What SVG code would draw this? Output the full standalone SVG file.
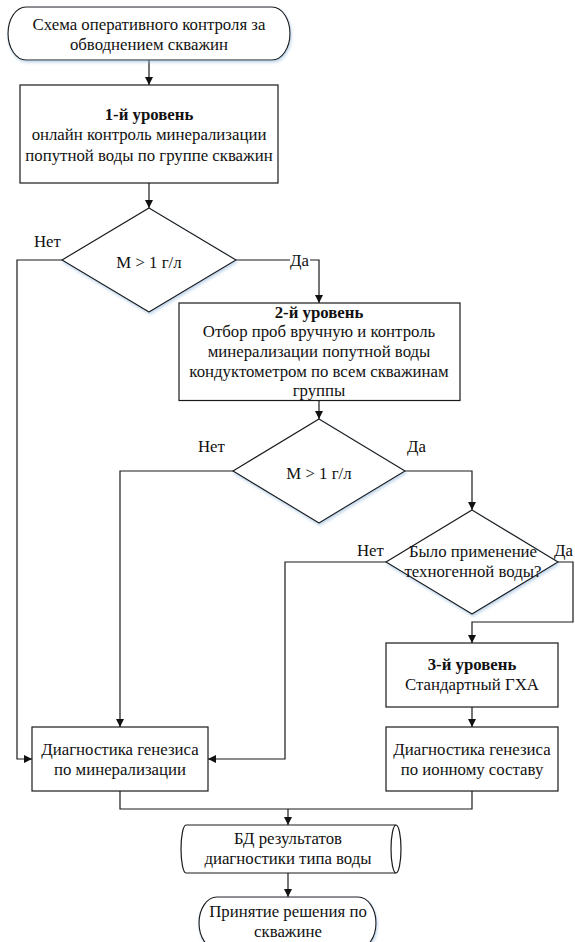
<svg xmlns="http://www.w3.org/2000/svg" width="575" height="942" viewBox="0 0 575 942">
<defs>
<style>
.shape{fill:#fff;stroke:#1a1a1a;stroke-width:1.2}
.conn{fill:none;stroke:#1a1a1a;stroke-width:1.2}
text{font-family:'Liberation Serif','Times New Roman',serif;font-size:16.8px;fill:#111;text-anchor:middle}
.b{font-weight:bold}
.lbl{text-anchor:start}
</style>
<marker id="arr" viewBox="0 0 10 10" refX="10" refY="5" markerWidth="8" markerHeight="8" markerUnits="userSpaceOnUse" orient="auto">
<path d="M0,0 L10,5 L0,10 Z" fill="#111"/>
</marker>
<filter id="sh" x="-10%" y="-10%" width="130%" height="140%">
<feDropShadow dx="1" dy="2" stdDeviation="1.5" flood-color="#8fb4d9" flood-opacity="0.55"/>
</filter>
</defs>
<rect width="575" height="942" fill="#fff"/>

<g id="connectors">
<path class="conn" d="M149,60 V85" marker-end="url(#arr)"/>
<path class="conn" d="M149,183 V208" marker-end="url(#arr)"/>
<path class="conn" d="M62,260 H17 V759 H32" marker-end="url(#arr)"/>
<path class="conn" d="M236,260 H319 V303" marker-end="url(#arr)"/>
<path class="conn" d="M319,400.5 V419" marker-end="url(#arr)"/>
<path class="conn" d="M233,471 H120 V727" marker-end="url(#arr)"/>
<path class="conn" d="M405,471 H472 V510" marker-end="url(#arr)"/>
<path class="conn" d="M386,562 H285 V759 H208" marker-end="url(#arr)"/>
<path class="conn" d="M558,562 H573 V622 H472 V643" marker-end="url(#arr)"/>
<path class="conn" d="M472,707 V727" marker-end="url(#arr)"/>
<path class="conn" d="M120,791 V809 H472 V791"/>
<path class="conn" d="M288,809 V825" marker-end="url(#arr)"/>
<path class="conn" d="M288,873 V897" marker-end="url(#arr)"/>
<rect x="290" y="253" width="20" height="14" fill="#fff"/>
<text class="lbl" x="290" y="266">Да</text>
<text class="lbl" x="34" y="247">Нет</text>
<text class="lbl" x="198" y="452">Нет</text>
<text class="lbl" x="407" y="452">Да</text>
<text class="lbl" x="357" y="556">Нет</text>
<text class="lbl" x="554" y="556">Да</text>
</g>

<g id="start">
<rect class="shape" x="8" y="7" width="282" height="53" rx="18" ry="26.5" filter="url(#sh)"/>
<text x="149" y="29.5">Схема оперативного контроля за</text>
<text x="149" y="49.5">обводнением скважин</text>
</g>

<g id="level1">
<rect class="shape" x="20" y="85" width="258" height="98"/>
<text class="b" x="149" y="119.5">1-й уровень</text>
<text x="149" y="140">онлайн контроль минерализации</text>
<text x="149" y="160.5">попутной воды по группе скважин</text>
</g>

<g id="decision1">
<polygon class="shape" points="149,208 236,260 149,312 62,260" filter="url(#sh)"/>
<text x="149" y="268">M &gt; 1 г/л</text>
</g>

<g id="level2">
<rect class="shape" x="179" y="303" width="281" height="97.5"/>
<text class="b" x="319" y="317.5">2-й уровень</text>
<text x="319" y="337.2">Отбор проб вручную и контроль</text>
<text x="319" y="356.9">минерализации попутной воды</text>
<text x="319" y="376.6">кондуктометром по всем скважинам</text>
<text x="319" y="396.3">группы</text>
</g>

<g id="decision2">
<polygon class="shape" points="319,419 405,471 319,523 233,471" filter="url(#sh)"/>
<text x="319" y="479">M &gt; 1 г/л</text>
</g>

<g id="decision3">
<polygon class="shape" points="472,510 558,562 472,614 386,562" filter="url(#sh)"/>
<text x="473" y="557">Было применение</text>
<text x="473" y="577">техногенной воды?</text>
</g>

<g id="level3">
<rect class="shape" x="386" y="643" width="172" height="64"/>
<text class="b" x="472" y="670">3-й уровень</text>
<text x="472" y="690">Стандартный ГХА</text>
</g>

<g id="diag-mineral">
<rect class="shape" x="32" y="727" width="176" height="64"/>
<text x="120" y="755">Диагностика генезиса</text>
<text x="120" y="774.5">по минерализации</text>
</g>

<g id="diag-ion">
<rect class="shape" x="386" y="727" width="172" height="64"/>
<text x="472" y="755">Диагностика генезиса</text>
<text x="472" y="774.5">по ионному составу</text>
</g>

<g id="database">
<path class="shape" d="M186,825 H396 A5,24 0 0 1 396,873 H186 A5,24 0 0 1 186,825 Z"/>
<path class="conn" d="M396,825 A5,24 0 0 0 396,873"/>
<text x="288" y="844">БД результатов</text>
<text x="288" y="864">диагностики типа воды</text>
</g>

<g id="end">
<rect class="shape" x="199" y="897" width="177" height="52" rx="18" ry="26" filter="url(#sh)"/>
<text x="288" y="917">Принятие решения по</text>
<text x="288" y="937">скважине</text>
</g>
</svg>
